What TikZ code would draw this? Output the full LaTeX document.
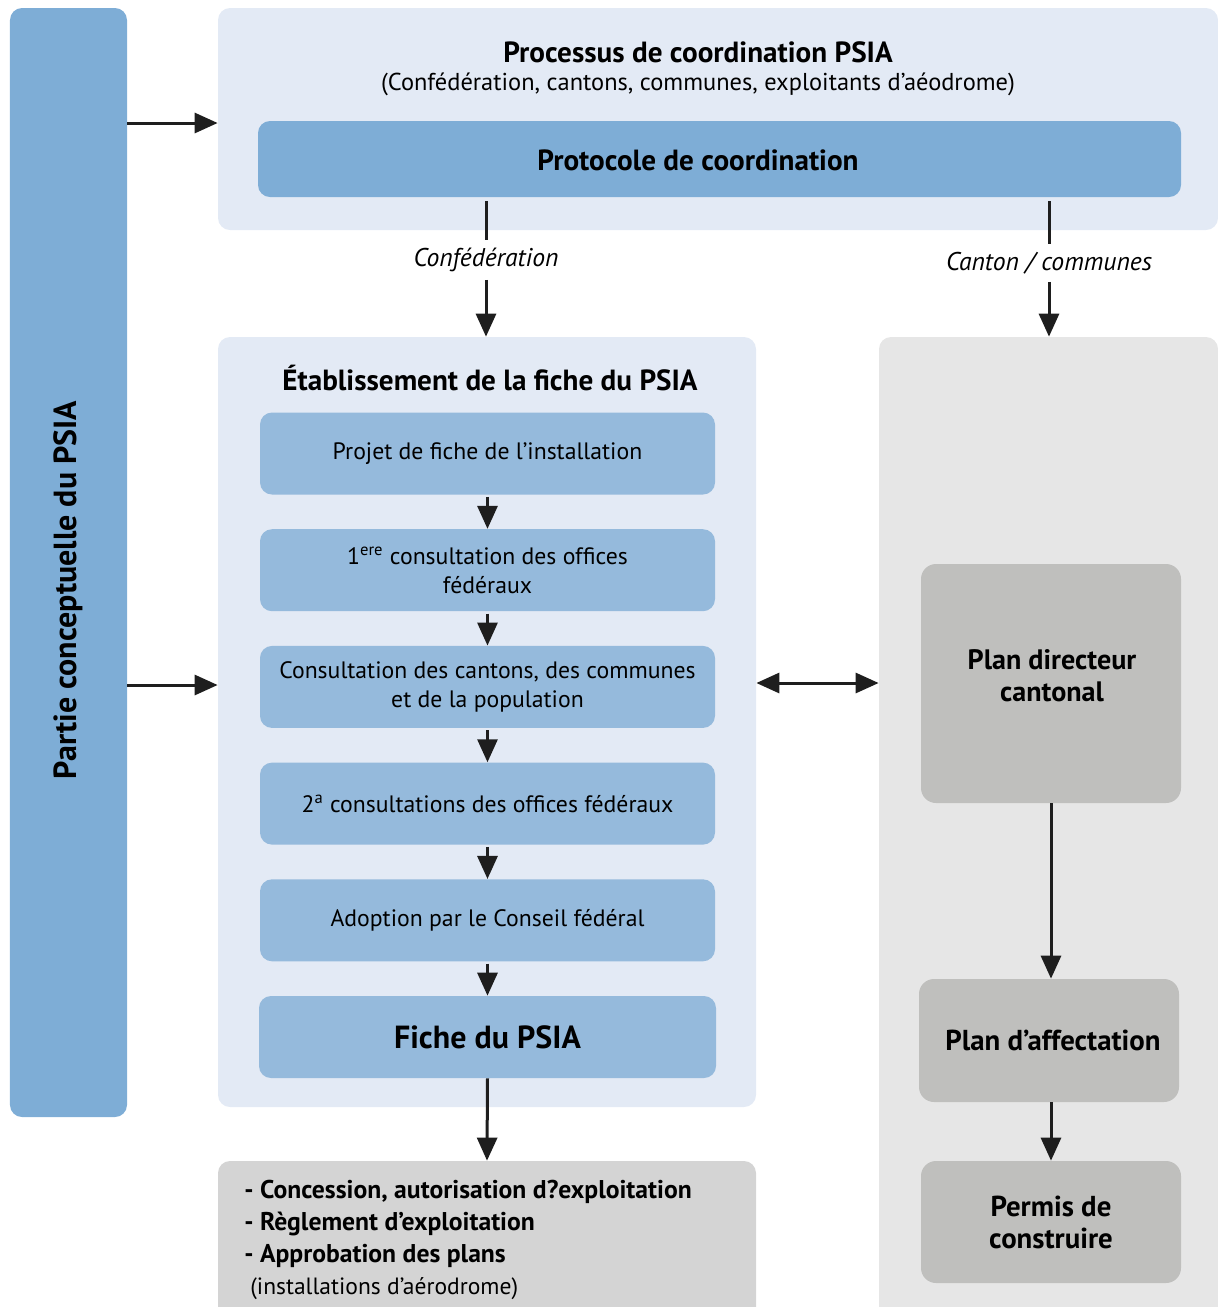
\documentclass[tikz,border=0pt]{standalone}
\usepackage{fontspec}
\setmainfont{PT Sans}
\usepackage{xcolor}
\usetikzlibrary{arrows.meta, positioning}
\definecolor{barblue}{HTML}{7EADD6}
\definecolor{paleblue}{HTML}{E3EAF5}
\definecolor{stepblue}{HTML}{95BADC}
\definecolor{panelgrey}{HTML}{E6E6E6}
\definecolor{plangrey}{HTML}{BFBFBD}
\definecolor{outgrey}{HTML}{D4D4D4}
\definecolor{arrowblack}{HTML}{1E1E1E}

\begin{document}
\begin{tikzpicture}[y=-1cm, every node/.style={align=center, inner sep=0pt}, >={Triangle[length=4.6mm, width=4mm]},
        arrowline/.style={draw=arrowblack, line width=0.6mm}]
        \def\gap{6.8mm}
        \def\bodysize{\fontsize{13.5}{16.5}\selectfont}
        \def\headsize{\bfseries\fontsize{16.6}{19}\selectfont}
        \clip (0,0) rectangle (24.36,26.14);
        % panels
        \begin{scope}[every node/.style={rounded corners=2.4mm, inner sep=0pt}]
            \node[fill=barblue, minimum width=23.4mm, minimum height=221.8mm] (concept) at (1.37,11.25) {};
            \node[fill=paleblue, minimum width=200mm, minimum height=44.4mm] (coord) at (14.36,2.38) {};
            \node[fill=barblue, minimum width=184.6mm, minimum height=15.2mm] (protocol) at (14.39,3.18) {};
            \node[fill=paleblue, minimum width=107.6mm, minimum height=154mm] (fichepanel) at (9.74,14.44) {};
            \node[fill=panelgrey, minimum width=67.8mm, minimum height=202.6mm] (cantonpanel) at (20.97,16.87) {};
            \node[fill=outgrey, minimum width=107.6mm, minimum height=37.8mm] (output) at (9.74,25.11) {};
        \end{scope}
        \node[rotate=90, font=\bfseries\fontsize{18.2}{21}\selectfont] (concepttext) at (1.36,11.8) {Partie conceptuelle du PSIA};
        \node[font=\headsize] (coordtitle) at (13.96,1.04) {Processus de coordination PSIA};
        \node[font=\fontsize{13.9}{16.5}\selectfont] (coordsub) at (13.96,1.68) {(Confédération, cantons, communes, exploitants d’aéodrome)};
        \node[font=\headsize] (protocoltext) at (13.96,3.2) {Protocole de coordination};
        \node[font=\headsize] (fichetitle) at (9.8,7.56) {Établissement de la fiche du PSIA};
        \begin{scope}[every node/.style={align=center, font=\itshape\fontsize{14.6}{17}\selectfont, inner sep=1.5mm}]
            \node (conflabel) at (9.72,5.2) {Confédération};
            \node (cantonlabel) at (20.98,5.26) {Canton / communes};
        \end{scope}
        % steps of the fiche
        \begin{scope}[every node/.style={align=center, fill=stepblue, rounded corners=2.4mm, minimum width=91mm, minimum height=16.4mm, font=\bodysize}]
            \node (step1) at (9.75,9.07) {Projet de fiche de l’installation};
            \node[below=\gap of step1] (step2) {1\textsuperscript{ere} consultation des offices\\fédéraux};
            \node[below=\gap of step2] (step3) {Consultation des cantons, des communes\\et de la population};
            \node[below=\gap of step3] (step4) {2\textsuperscript{a} consultations des offices fédéraux};
            \node[below=\gap of step4] (step5) {Adoption par le Conseil fédéral};
            \node[below=\gap of step5, minimum width=91.4mm, font=\bfseries\fontsize{18.2}{21}\selectfont] (fiche) {Fiche du PSIA};
        \end{scope}
        % cantonal plans
        \begin{scope}[every node/.style={align=center, fill=plangrey, rounded corners=3mm, minimum width=52mm, font=\bfseries\fontsize{16.4}{18.2}\selectfont}]
            \node[minimum height=47.8mm] (plandir) at (21.02,13.67) {};
            \node[minimum height=24.6mm] (planaff) at (20.98,20.81) {\hspace*{1.6mm}Plan d’affectation};
            \node[minimum height=24.4mm] (permis) at (21.02,24.44) {Permis de\\construire};
        \end{scope}
        \node[font=\bfseries\fontsize{16}{18.2}\selectfont] (plandirtext) at (21.04,13.52) {Plan directeur\\cantonal};
        \node[anchor=west, align=left, font=\bfseries\fontsize{14.6}{18.2}\selectfont] (outtext) at (4.88,24.8)
            {- Concession, autorisation d?exploitation\\- Règlement d’exploitation\\- Approbation des plans\\\hspace*{1.2mm}{\mdseries\fontsize{13.4}{18.2}\selectfont (installations d’aérodrome)}};
        % connectors
        \coordinate (ytop) at (0,2.46);
        \coordinate (ymid) at (0,13.7);
        \coordinate (ydbl) at (0,13.66);
        \draw[->, arrowline] (concept.east |- ytop) -- (coord.west |- ytop);
        \draw[->, arrowline] (concept.east |- ymid) -- (fichepanel.west |- ymid);
        \draw[arrowline] ([yshift=-0.8mm]protocol.south -| conflabel) -- (conflabel.north);
        \draw[->, arrowline] (conflabel.south) -- (fichepanel.north -| conflabel);
        \draw[arrowline] ([yshift=-0.8mm]protocol.south -| cantonlabel) -- (cantonlabel.north);
        \draw[->, arrowline] (cantonlabel.south) -- (cantonpanel.north -| cantonlabel);
        \draw[->, arrowline] ([yshift=-0.4mm]step1.south) -- (step2.north);
        \draw[->, arrowline] ([yshift=-0.4mm]step2.south) -- (step3.north);
        \draw[->, arrowline] ([yshift=-0.4mm]step3.south) -- (step4.north);
        \draw[->, arrowline] ([yshift=-0.4mm]step4.south) -- (step5.north);
        \draw[->, arrowline] ([yshift=-0.4mm]step5.south) -- (fiche.north);
        \draw[->, arrowline] (fiche.south) -- (output.north);
        \draw[<->, arrowline] (fichepanel.east |- ydbl) -- (cantonpanel.west |- ydbl);
        \draw[->, arrowline] (plandir.south) -- (planaff.north -| plandir.south);
        \draw[->, arrowline] (planaff.south -| plandir.south) -- (permis.north);
    \end{tikzpicture}
\end{document}
